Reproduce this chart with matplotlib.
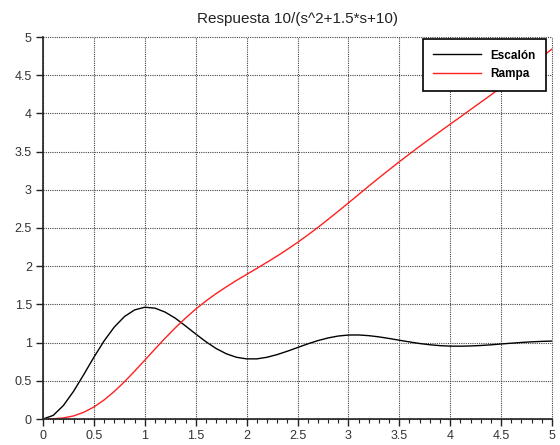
import matplotlib
matplotlib.use("Agg")
import matplotlib.pyplot as plt
from matplotlib.ticker import MultipleLocator

plt.rcParams['font.family'] = ['Liberation Sans', 'DejaVu Sans']

title = "Respuesta 10/(s^2+1.5*s+10)"
t = [0.0, 0.1, 0.2, 0.3, 0.4, 0.5, 0.6, 0.7, 0.8, 0.9, 1.0,
     1.1, 1.2, 1.3, 1.4, 1.5, 1.6, 1.7, 1.8, 1.9, 2.0,
     2.1, 2.2, 2.3, 2.4, 2.5, 2.6, 2.7, 2.8, 2.9, 3.0,
     3.1, 3.2, 3.3, 3.4, 3.5, 3.6, 3.7, 3.8, 3.9, 4.0,
     4.1, 4.2, 4.3, 4.4, 4.5, 4.6, 4.7, 4.8, 4.9, 5.0]
escalon = [0.0, 0.047, 0.176, 0.362, 0.581, 0.809, 1.022, 1.203, 1.341, 1.428, 1.463,
           1.451, 1.399, 1.319, 1.218, 1.113, 1.012, 0.923, 0.854, 0.808, 0.787,
           0.787, 0.808, 0.843, 0.887, 0.935, 0.983, 1.026, 1.061, 1.086, 1.099,
           1.100, 1.091, 1.075, 1.054, 1.031, 1.009, 0.988, 0.972, 0.960, 0.954,
           0.953, 0.956, 0.962, 0.971, 0.982, 0.992, 1.002, 1.010, 1.016, 1.020]
rampa = [0.0, 0.002, 0.014, 0.040, 0.088, 0.157, 0.249, 0.360, 0.487, 0.626, 0.770,
         0.916, 1.058, 1.194, 1.321, 1.438, 1.544, 1.641, 1.729, 1.813, 1.892,
         1.971, 2.051, 2.133, 2.220, 2.311, 2.407, 2.507, 2.612, 2.719, 2.828,
         2.938, 3.048, 3.156, 3.262, 3.367, 3.469, 3.569, 3.667, 3.763, 3.859,
         3.954, 4.050, 4.146, 4.242, 4.340, 4.439, 4.538, 4.639, 4.740, 4.842]
labels = ["Escalón", "Rampa"]
xticks = [0, 0.5, 1, 1.5, 2, 2.5, 3, 3.5, 4, 4.5, 5]
xticklabels = ["0", "0.5", "1", "1.5", "2", "2.5", "3", "3.5", "4", "4.5", "5"]
yticks = [0, 0.5, 1, 1.5, 2, 2.5, 3, 3.5, 4, 4.5, 5]
yticklabels = ["0", "0.5", "1", "1.5", "2", "2.5", "3", "3.5", "4", "4.5", "5"]

fig = plt.figure(figsize=(5.6, 4.45), dpi=100)
ax = fig.add_axes([43/560, 1-419/445, (552-43)/560, (419-37)/445])

ax.plot(t, escalon, color='black', lw=1.0, label=labels[0])
ax.plot(t, rampa, color='#ff2020', lw=1.0, label=labels[1])

ax.set_xlim(0, 5)
ax.set_ylim(0, 5)
ax.set_xticks(xticks)
ax.set_xticklabels(xticklabels)
ax.set_yticks(yticks)
ax.set_yticklabels(yticklabels)
ax.xaxis.set_minor_locator(MultipleLocator(0.1))

ax.grid(True, which='major', color='#444444', linestyle=(0, (1, 1)), linewidth=0.8)
for ln in ax.get_xgridlines() + ax.get_ygridlines():
    ln.set_clip_on(False)
ax.set_axisbelow(True)

for s in ['top', 'right']:
    ax.spines[s].set_visible(False)
for s in ['left', 'bottom']:
    ax.spines[s].set_color('#222222')
    ax.spines[s].set_linewidth(1.2)

ax.tick_params(axis='both', which='major', direction='out', length=5, width=1,
               color='#222222', labelsize=9, labelcolor='#333333', pad=3)
ax.tick_params(axis='x', which='minor', direction='out', length=3, width=0.8, color='#222222')

ax.set_title(title, fontsize=11, pad=10, color='#222222')

leg = ax.legend(loc='upper right', fancybox=False, framealpha=1,
                edgecolor='black', prop={'weight': 'bold', 'size': 8.5},
                handlelength=4.0, borderpad=0.9, labelspacing=0.55, handletextpad=0.8,
                borderaxespad=0)
leg.get_frame().set_linewidth(1.2)
leg.set_bbox_to_anchor(((546-43)/509, (419-39)/382), transform=ax.transAxes)

fig.savefig("out.png", dpi=100)
